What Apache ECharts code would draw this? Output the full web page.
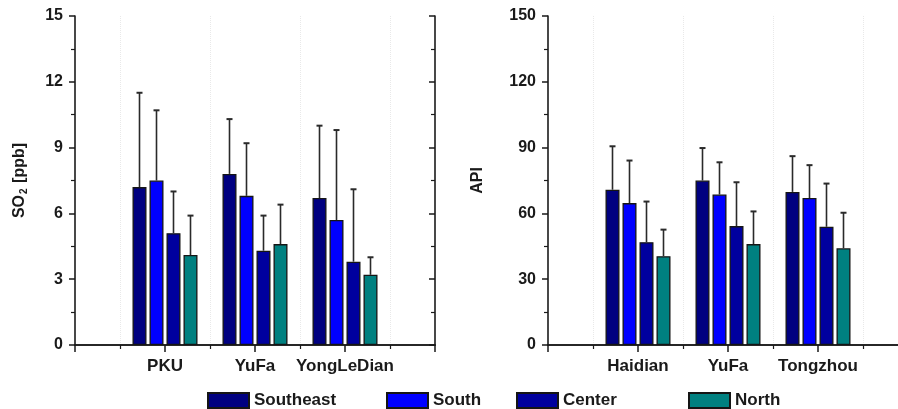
<!DOCTYPE html>
<html>
<head>
<meta charset="utf-8">
<script src="https://cdn.jsdelivr.net/npm/echarts@6/dist/echarts.min.js"></script>
<style>
  html, body { margin: 0; padding: 0; background: #fff; }
  #chart { width: 898px; height: 409px; }
</style>
</head>
<body>
<div id="chart"></div>
<script>
// Sites on each panel
const so2Sites = ['PKU', 'YuFa', 'YongLeDian'];
const apiSites = ['Haidian', 'YuFa', 'Tongzhou'];

// Wind-sector groups
const sectorNames = ['Southeast', 'South', 'Center', 'North'];
const sectorColors = ['#000080', '#0000FF', '#00009E', '#008080'];

// SO2 [ppb]: means and standard deviations per sector (site order as so2Sites)
const so2Southeast = [7.2, 7.8, 6.7];
const so2South     = [7.5, 6.8, 5.7];
const so2Center    = [5.1, 4.3, 3.8];
const so2North     = [4.1, 4.6, 3.2];
const so2SdSoutheast = [4.3, 2.5, 3.3];
const so2SdSouth     = [3.2, 2.4, 4.1];
const so2SdCenter    = [1.9, 1.6, 3.3];
const so2SdNorth     = [1.8, 1.8, 0.8];

// API: means and standard deviations per sector (site order as apiSites)
const apiSoutheast = [70.8, 75.0, 69.8];
const apiSouth     = [64.7, 68.6, 67.0];
const apiCenter    = [46.9, 54.2, 53.9];
const apiNorth     = [40.5, 46.0, 44.1];
const apiSdSoutheast = [19.8, 14.8, 16.3];
const apiSdSouth     = [19.4, 14.7, 15.0];
const apiSdCenter    = [18.5, 20.0, 19.7];
const apiSdNorth     = [12.1, 14.9, 16.2];

// Y-axis tick values
const so2Ticks = [0, 3, 6, 9, 12, 15];
const apiTicks = [0, 30, 60, 90, 120, 150];

const so2Means = [so2Southeast, so2South, so2Center, so2North];
const so2Sds = [so2SdSoutheast, so2SdSouth, so2SdCenter, so2SdNorth];
const apiMeans = [apiSoutheast, apiSouth, apiCenter, apiNorth];
const apiSds = [apiSdSoutheast, apiSdSouth, apiSdCenter, apiSdNorth];

const FONT = '"Liberation Sans", Arial, Helvetica, sans-serif';
const INK = '#1a1a1a';
const BAR_W = 14;
const BAR_GAP_PX = 3;

const chart = echarts.init(document.getElementById('chart'), null, { renderer: 'canvas' });

// Pad categories so the sites sit at positions 1..3 of a 0..4 span
function padded(list) { return [''].concat(list, ['']); }

function bottomAxis(gridIndex, sites) {
  return {
    type: 'category', gridIndex, position: 'bottom',
    data: padded(sites), boundaryGap: false,
    axisLine: { show: true, onZero: false, lineStyle: { color: INK, width: 1.6 } },
    axisTick: { show: true, inside: false, length: 6, interval: 0, lineStyle: { color: INK, width: 1.5 } },
    axisLabel: { interval: 0, margin: 13, color: INK, fontFamily: FONT, fontWeight: 'bold', fontSize: 17 },
    splitLine: { show: false }
  };
}
function topAxis(gridIndex) {
  return {
    type: 'value', gridIndex, position: 'top', min: 0, max: 4, interval: 1,
    axisLine: { show: true, lineStyle: { color: INK, width: 1.6 } },
    axisTick: { show: true, inside: true, length: 7, lineStyle: { color: INK, width: 1.5 } },
    minorTick: { show: true, splitNumber: 2, length: 4, lineStyle: { color: INK, width: 1.2 } },
    axisLabel: { show: false },
    splitLine: { show: false },
    minorSplitLine: { show: true, lineStyle: { color: '#e9e9e9', width: 1, type: 'dotted' } }
  };
}
function leftAxis(gridIndex, ticks, name, rich, nameGap) {
  return {
    type: 'value', gridIndex, position: 'left',
    min: ticks[0], max: ticks[ticks.length - 1], interval: ticks[1] - ticks[0],
    name, nameLocation: 'middle', nameRotate: 90, nameGap,
    nameTextStyle: { color: INK, fontFamily: FONT, fontWeight: 'bold', fontSize: 16, rich },
    axisLine: { show: true, lineStyle: { color: INK, width: 1.6 } },
    axisTick: { show: true, inside: false, length: 6, lineStyle: { color: INK, width: 1.5 } },
    minorTick: { show: true, splitNumber: 2, length: 4, lineStyle: { color: INK, width: 1.2 } },
    axisLabel: { margin: 12, color: INK, fontFamily: FONT, fontWeight: 'bold', fontSize: 16 },
    splitLine: { show: false }
  };
}
function rightAxis(gridIndex, ticks) {
  return {
    type: 'value', gridIndex, position: 'right',
    min: ticks[0], max: ticks[ticks.length - 1], interval: ticks[1] - ticks[0],
    axisLine: { show: true, lineStyle: { color: INK, width: 1.6 } },
    axisTick: { show: true, inside: true, length: 6, lineStyle: { color: INK, width: 1.5 } },
    minorTick: { show: true, splitNumber: 2, length: 4, lineStyle: { color: INK, width: 1.2 } },
    axisLabel: { show: false },
    splitLine: { show: false }
  };
}

// Bars and upward error bars for one panel
function panelSeries(xIdx, yIdx, means, sds) {
  const out = [];
  sectorNames.forEach((name, i) => {
    out.push({
      name, type: 'bar', xAxisIndex: xIdx, yAxisIndex: yIdx,
      barWidth: BAR_W, barGap: (BAR_GAP_PX / BAR_W * 100) + '%',
      itemStyle: { color: sectorColors[i], borderColor: '#151515', borderWidth: 1.3 },
      emphasis: { disabled: true },
      data: ['-'].concat(means[i], ['-'])
    });
    const offset = (i - 1.5) * (BAR_W + BAR_GAP_PX);
    out.push({
      name, type: 'custom', xAxisIndex: xIdx, yAxisIndex: yIdx, z: 3,
      data: means[i].map((m, k) => [k + 1, m, sds[i][k]]),
      encode: { x: 0, y: 1 },
      renderItem(params, api) {
        const cat = api.value(0), m = api.value(1), sd = api.value(2);
        const base = api.coord([cat, m]);
        const top = api.coord([cat, m + sd]);
        const x = base[0] + offset;
        const style = { stroke: '#2a2a2a', lineWidth: 1.6 };
        return {
          type: 'group',
          children: [
            { type: 'line', shape: { x1: x, y1: base[1], x2: x, y2: top[1] }, style },
            { type: 'line', shape: { x1: x - 3, y1: top[1], x2: x + 3, y2: top[1] }, style: { stroke: '#2a2a2a', lineWidth: 2 } }
          ]
        };
      }
    });
  });
  return out;
}

// One legend per entry so the entries can be spaced freely
const legendLefts = [207, 386, 516, 688];
const legends = sectorNames.map((name, i) => ({
  data: [name], left: legendLefts[i], top: 392, padding: 0,
  itemWidth: 41, itemHeight: 15, icon: 'rect', selectedMode: false,
  textStyle: { color: INK, fontFamily: FONT, fontWeight: 'bold', fontSize: 17 }
}));

const option = {
  animation: false,
  backgroundColor: '#ffffff',
  legend: legends,
  grid: [
    { left: 75, top: 16, width: 360, height: 329, outerBoundsMode: 'none', containLabel: false },
    { left: 548, top: 16, width: 360, height: 329, outerBoundsMode: 'none', containLabel: false }
  ],
  xAxis: [bottomAxis(0, so2Sites), topAxis(0), bottomAxis(1, apiSites), topAxis(1)],
  yAxis: [
    leftAxis(0, so2Ticks, '{t|SO}{s|2}{t| [ppb]}', {
      t: { fontFamily: FONT, fontWeight: 'bold', fontSize: 16, color: INK },
      s: { fontFamily: FONT, fontWeight: 'bold', fontSize: 10, color: INK, verticalAlign: 'bottom', padding: [8, 1, 0, 1] }
    }, 46),
    rightAxis(0, so2Ticks),
    leftAxis(1, apiTicks, 'API', null, 62),
    rightAxis(1, apiTicks)
  ],
  series: panelSeries(0, 0, so2Means, so2Sds).concat(panelSeries(2, 2, apiMeans, apiSds))
};

chart.setOption(option);
</script>
</body>
</html>
